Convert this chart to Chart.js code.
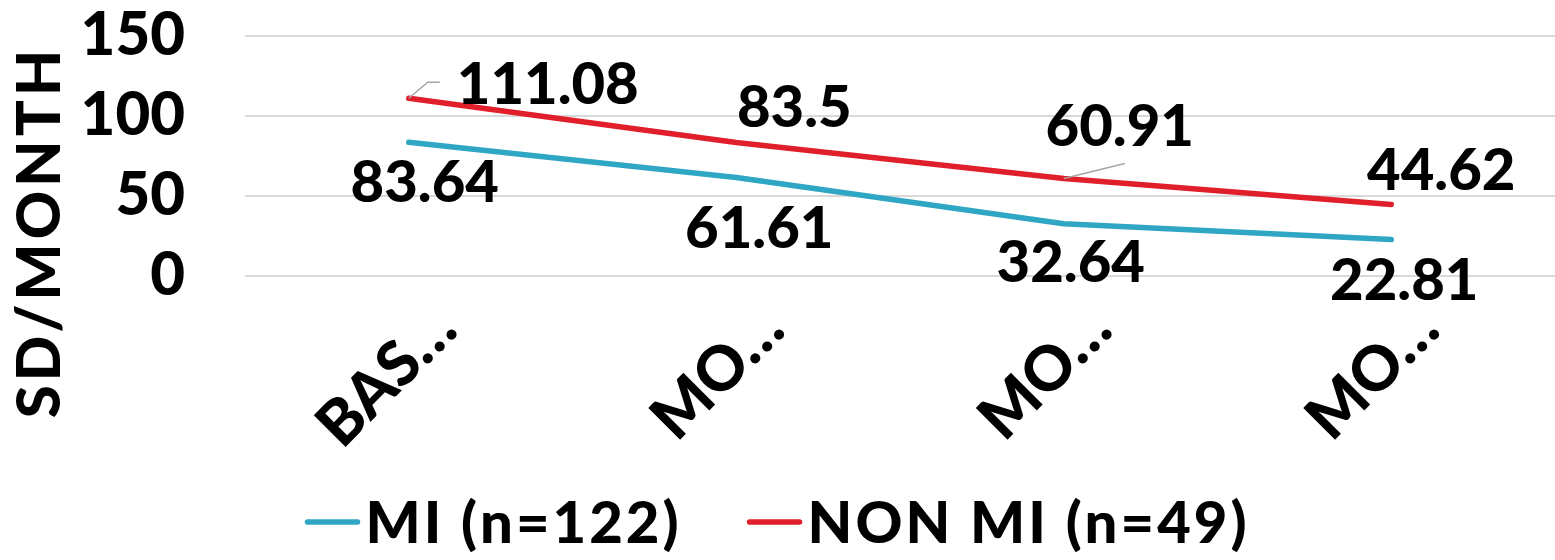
<!DOCTYPE html>
<html>
<head>
<meta charset="utf-8">
<script src="https://cdn.jsdelivr.net/npm/chart.js@4.4.1/dist/chart.umd.min.js"></script>
<style>
  html, body { margin: 0; padding: 0; background: #fff; }
  #wrap { width: 1555px; height: 560px; position: relative; }
</style>
</head>
<body>
<div id="wrap"><canvas id="c"></canvas></div>
<script>
// Category labels along the x axis
const categories = ['BAS\u2026', 'MO\u2026', 'MO\u2026', 'MO\u2026'];
// Mean SD per month for each group
const miValues = [83.64, 61.61, 32.64, 22.81];
const nonMiValues = [111.08, 83.5, 60.91, 44.62];
// Y axis ticks
const yTicks = [0, 50, 100, 150];
// Series names
const seriesNames = ['MI (n=122)', 'NON MI (n=49)'];

const BLUE = '#2ea6c4';
const RED = '#e01f2b';
const FONT = 'Lato, "Open Sans", "DejaVu Sans", sans-serif';
const WEIGHT = '900';

// label placement relative to each point (dx, dy of the text centre)
const labelOffsets = [
  [[16, 39], [23, 50], [7, 37], [13, 40]],        // MI
  [[139, -15], [58, -36], [56, -53], [50, -35]]   // NON MI
];
// leader lines for labels pulled away from their points
const leaders = {
  '1-0': [[19, -16], [31, -16]],
  '1-2': [[61, -15]]
};

const valueLabels = {
  id: 'valueLabels',
  afterDatasetsDraw(chart) {
    const ctx = chart.ctx;
    ctx.save();
    chart.data.datasets.forEach((ds, di) => {
      const meta = chart.getDatasetMeta(di);
      meta.data.forEach((pt, i) => {
        const key = di + '-' + i;
        if (leaders[key]) {
          ctx.beginPath();
          ctx.strokeStyle = '#a6a6a6';
          ctx.lineWidth = 1.5;
          ctx.moveTo(pt.x, pt.y);
          leaders[key].forEach(p => ctx.lineTo(pt.x + p[0], pt.y + p[1]));
          ctx.stroke();
        }
        const off = labelOffsets[di][i];
        const size = 58;
        ctx.font = WEIGHT + ' ' + size + 'px ' + FONT;
        ctx.fillStyle = '#000';
        ctx.textAlign = 'center';
        ctx.textBaseline = 'alphabetic';
        ctx.fillText(String(ds.data[i]), pt.x + off[0], pt.y + off[1] + size * 0.36);
      });
    });
    ctx.restore();
  }
};

const axisTitleAndLegend = {
  id: 'axisTitleAndLegend',
  afterDraw(chart) {
    const ctx = chart.ctx;
    ctx.save();
    // y axis title
    const ts = 60;
    ctx.font = WEIGHT + ' ' + ts + 'px ' + FONT;
    ctx.letterSpacing = '4px';
    ctx.fillStyle = '#000';
    ctx.translate(38 + ts * 0.36, 232);
    ctx.rotate(-Math.PI / 2);
    ctx.textAlign = 'center';
    ctx.textBaseline = 'alphabetic';
    ctx.fillText('SD/MONTH', 0, 0);
    ctx.restore();

    // legend
    ctx.save();
    const ls = 58;
    ctx.font = WEIGHT + ' ' + ls + 'px ' + FONT;
    ctx.letterSpacing = '3px';
    const sw = 54, gap = 6, itemGap = 66;
    const colors = [BLUE, RED];
    const widths = seriesNames.map(t => sw + gap + ctx.measureText(t).width);
    const total = widths.reduce((a, b) => a + b, 0) + itemGap;
    let x = chart.width / 2 - total / 2;
    const cy = 522;
    seriesNames.forEach((t, i) => {
      ctx.strokeStyle = colors[i];
      ctx.lineWidth = 5.5;
      ctx.lineCap = 'round';
      ctx.beginPath();
      ctx.moveTo(x + 2, cy);
      ctx.lineTo(x + sw - 2, cy);
      ctx.stroke();
      ctx.fillStyle = '#000';
      ctx.textAlign = 'left';
      ctx.textBaseline = 'alphabetic';
      ctx.fillText(t, x + sw + gap, cy + ls * 0.36);
      x += widths[i] + itemGap;
    });
    ctx.restore();
  }
};

new Chart(document.getElementById('c'), {
  type: 'line',
  data: {
    labels: categories,
    datasets: [
      { label: seriesNames[0], data: miValues, borderColor: BLUE, backgroundColor: BLUE },
      { label: seriesNames[1], data: nonMiValues, borderColor: RED, backgroundColor: RED }
    ]
  },
  options: {
    responsive: true,
    maintainAspectRatio: false,
    animation: false,
    elements: {
      line: { borderWidth: 5.5, tension: 0, borderCapStyle: 'round', borderJoinStyle: 'round' },
      point: { radius: 0, hoverRadius: 0 }
    },
    layout: { padding: { top: 36, right: 0, bottom: 100, left: 0 } },
    plugins: { legend: { display: false }, tooltip: { enabled: false } },
    scales: {
      x: {
        offset: true,
        grid: { display: false, drawTicks: false },
        border: { display: false },
        ticks: {
          autoSkip: false,
          maxRotation: 45,
          minRotation: 45,
          labelOffset: 37,
          padding: 16,
          color: '#000',
          font: { family: FONT, size: 62, weight: WEIGHT }
        },
        afterFit(s) {
          s.height = 560 - 100 - 276;
          s.paddingLeft = 0;
          s.paddingRight = 0;
        }
      },
      y: {
        min: yTicks[0],
        max: yTicks[yTicks.length - 1],
        afterBuildTicks(s) { s.ticks = yTicks.map(v => ({ value: v })); },
        grid: { color: '#d9d9d9', lineWidth: 2, drawTicks: false },
        border: { display: false },
        ticks: {
          stepSize: yTicks[1] - yTicks[0],
          autoSkip: false,
          padding: 60,
          color: '#000',
          font: { family: FONT, size: 60, weight: WEIGHT }
        },
        afterFit(s) {
          s.width = 245;
          s.paddingTop = 0;
          s.paddingBottom = 0;
        }
      }
    }
  },
  plugins: [valueLabels, axisTitleAndLegend]
});
</script>
</body>
</html>
